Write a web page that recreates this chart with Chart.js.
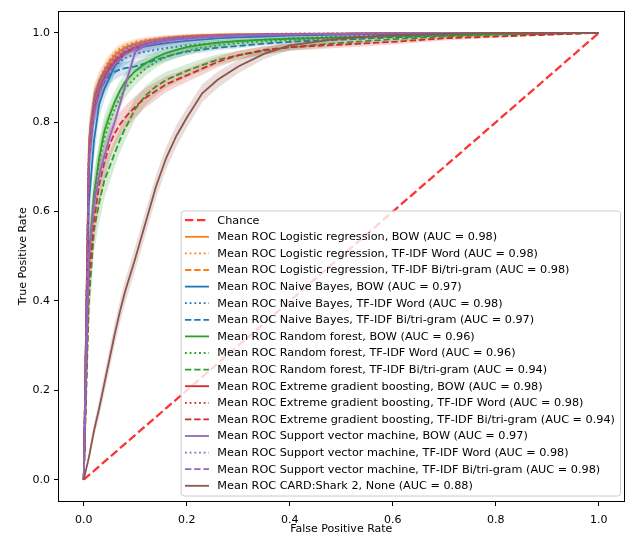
<!DOCTYPE html>
<html><head><meta charset="utf-8">
<script src="https://cdn.jsdelivr.net/npm/chart.js@4/dist/chart.umd.min.js"></script>
<style>html,body{margin:0;padding:0;background:#fff}#wrap{width:628px;height:535px}</style>
</head><body><div id="wrap"><canvas id="c" width="628" height="535"></canvas></div>
<script>
// ---- data ----
const FPR = [0, 0.01, 0.02, 0.03, 0.04, 0.05, 0.06, 0.07, 0.08, 0.10, 0.12, 0.14, 0.16, 0.18, 0.20, 0.23, 0.26, 0.30, 0.35, 0.40, 0.50, 0.60, 0.70, 0.80, 0.90, 1.00];
const CHANCE_X = [0, 1];
const CHANCE_Y = [0, 1];
const lr_bow    = [0, 0.76, 0.85, 0.89, 0.915, 0.935, 0.95, 0.96, 0.967, 0.976, 0.982, 0.986, 0.989, 0.991, 0.993, 0.995, 0.996, 0.997, 0.998, 0.998, 0.999, 1, 1, 1, 1, 1];
const lr_word   = [0, 0.75, 0.855, 0.895, 0.92, 0.94, 0.955, 0.965, 0.972, 0.98, 0.985, 0.988, 0.99, 0.992, 0.994, 0.995, 0.996, 0.997, 0.998, 0.999, 0.999, 1, 1, 1, 1, 1];
const lr_ngram  = [0, 0.74, 0.84, 0.88, 0.905, 0.925, 0.94, 0.95, 0.958, 0.968, 0.975, 0.98, 0.984, 0.987, 0.989, 0.991, 0.993, 0.995, 0.996, 0.997, 0.998, 0.999, 1, 1, 1, 1];
const nb_bow    = [0, 0.62, 0.76, 0.84, 0.875, 0.9, 0.925, 0.94, 0.955, 0.965, 0.97, 0.974, 0.977, 0.98, 0.982, 0.985, 0.988, 0.99, 0.992, 0.994, 0.996, 0.998, 0.999, 1, 1, 1];
const nb_word   = [0, 0.72, 0.83, 0.87, 0.895, 0.91, 0.925, 0.935, 0.943, 0.953, 0.958, 0.962, 0.966, 0.969, 0.972, 0.975, 0.978, 0.981, 0.985, 0.988, 0.992, 0.995, 0.997, 0.999, 1, 1];
const nb_ngram  = [0, 0.73, 0.83, 0.87, 0.89, 0.905, 0.913, 0.918, 0.921, 0.925, 0.932, 0.94, 0.947, 0.953, 0.958, 0.963, 0.967, 0.971, 0.976, 0.98, 0.985, 0.99, 0.994, 0.997, 0.999, 1];
const rf_bow    = [0, 0.5, 0.64, 0.72, 0.78, 0.815, 0.845, 0.87, 0.89, 0.915, 0.932, 0.945, 0.955, 0.962, 0.968, 0.974, 0.978, 0.982, 0.985, 0.987, 0.99, 0.993, 0.996, 0.998, 0.999, 1];
const rf_word   = [0, 0.48, 0.63, 0.71, 0.765, 0.8, 0.83, 0.855, 0.875, 0.9, 0.92, 0.935, 0.946, 0.954, 0.96, 0.967, 0.972, 0.977, 0.981, 0.984, 0.988, 0.992, 0.995, 0.997, 0.999, 1];
const rf_ngram  = [0, 0.4, 0.56, 0.62, 0.67, 0.7, 0.73, 0.76, 0.785, 0.83, 0.86, 0.88, 0.895, 0.905, 0.915, 0.928, 0.94, 0.95, 0.96, 0.968, 0.978, 0.986, 0.992, 0.996, 0.998, 1];
const xgb_bow   = [0, 0.72, 0.83, 0.87, 0.9, 0.92, 0.935, 0.945, 0.955, 0.967, 0.975, 0.98, 0.984, 0.987, 0.989, 0.991, 0.993, 0.995, 0.996, 0.997, 0.998, 0.999, 1, 1, 1, 1];
const xgb_word  = [0, 0.73, 0.835, 0.875, 0.905, 0.925, 0.94, 0.95, 0.958, 0.968, 0.976, 0.981, 0.985, 0.988, 0.99, 0.992, 0.994, 0.995, 0.996, 0.997, 0.998, 0.999, 1, 1, 1, 1];
const xgb_ngram = [0, 0.45, 0.58, 0.66, 0.71, 0.75, 0.775, 0.795, 0.81, 0.835, 0.855, 0.87, 0.885, 0.895, 0.905, 0.92, 0.935, 0.95, 0.962, 0.968, 0.974, 0.98, 0.988, 0.992, 0.996, 1];
const svm_bow   = [0, 0.5, 0.62, 0.68, 0.725, 0.765, 0.8, 0.84, 0.88, 0.958, 0.972, 0.978, 0.982, 0.985, 0.987, 0.99, 0.992, 0.994, 0.995, 0.996, 0.998, 0.999, 1, 1, 1, 1];
const svm_word  = [0, 0.74, 0.84, 0.88, 0.91, 0.93, 0.945, 0.955, 0.963, 0.973, 0.98, 0.984, 0.987, 0.99, 0.991, 0.993, 0.995, 0.996, 0.997, 0.998, 0.999, 1, 1, 1, 1, 1];
const svm_ngram = [0, 0.72, 0.82, 0.865, 0.895, 0.915, 0.93, 0.942, 0.952, 0.965, 0.974, 0.98, 0.984, 0.987, 0.989, 0.991, 0.993, 0.995, 0.996, 0.997, 0.998, 0.999, 1, 1, 1, 1];
const card      = [0, 0.05, 0.11, 0.16, 0.215, 0.27, 0.325, 0.375, 0.42, 0.495, 0.575, 0.655, 0.72, 0.77, 0.81, 0.865, 0.895, 0.925, 0.953, 0.972, 0.988, 0.995, 0.998, 1, 1, 1];

// standard deviation of TPR across folds (band half-widths)
const std_tight = [0, 0.05, 0.03, 0.02, 0.015, 0.012, 0.01, 0.009, 0.008, 0.007, 0.006, 0.005, 0.005, 0.004, 0.004, 0.004, 0.003, 0.003, 0.003, 0.002, 0.002, 0.001, 0.001, 0, 0, 0];
const std_nb    = [0, 0.06, 0.04, 0.03, 0.025, 0.02, 0.018, 0.016, 0.015, 0.013, 0.012, 0.011, 0.01, 0.009, 0.008, 0.007, 0.006, 0.005, 0.004, 0.004, 0.003, 0.002, 0.002, 0.001, 0.001, 0];
const std_rf    = [0, 0.06, 0.05, 0.04, 0.035, 0.03, 0.025, 0.022, 0.02, 0.017, 0.015, 0.013, 0.011, 0.01, 0.009, 0.008, 0.007, 0.006, 0.005, 0.004, 0.003, 0.002, 0.002, 0.001, 0.001, 0];
const std_wide  = [0, 0.06, 0.05, 0.045, 0.04, 0.035, 0.03, 0.028, 0.026, 0.024, 0.022, 0.02, 0.018, 0.016, 0.015, 0.014, 0.012, 0.01, 0.009, 0.008, 0.007, 0.006, 0.005, 0.003, 0.002, 0];
const std_card  = [0, 0.01, 0.015, 0.02, 0.022, 0.024, 0.025, 0.026, 0.026, 0.027, 0.027, 0.026, 0.025, 0.024, 0.022, 0.02, 0.018, 0.015, 0.012, 0.01, 0.007, 0.005, 0.003, 0.002, 0.001, 0];

const LABELS = [
  'Chance',
  'Mean ROC Logistic regression, BOW (AUC = 0.98)',
  'Mean ROC Logistic regression, TF-IDF Word (AUC = 0.98)',
  'Mean ROC Logistic regression, TF-IDF Bi/tri-gram (AUC = 0.98)',
  'Mean ROC Naive Bayes, BOW (AUC = 0.97)',
  'Mean ROC Naive Bayes, TF-IDF Word (AUC = 0.98)',
  'Mean ROC Naive Bayes, TF-IDF Bi/tri-gram (AUC = 0.97)',
  'Mean ROC Random forest, BOW (AUC = 0.96)',
  'Mean ROC Random forest, TF-IDF Word (AUC = 0.96)',
  'Mean ROC Random forest, TF-IDF Bi/tri-gram (AUC = 0.94)',
  'Mean ROC Extreme gradient boosting, BOW (AUC = 0.98)',
  'Mean ROC Extreme gradient boosting, TF-IDF Word (AUC = 0.98)',
  'Mean ROC Extreme gradient boosting, TF-IDF Bi/tri-gram (AUC = 0.94)',
  'Mean ROC Support vector machine, BOW (AUC = 0.97)',
  'Mean ROC Support vector machine, TF-IDF Word (AUC = 0.98)',
  'Mean ROC Support vector machine, TF-IDF Bi/tri-gram (AUC = 0.98)',
  'Mean ROC CARD:Shark 2, None (AUC = 0.88)'
];
const XTICKS = [0, 0.2, 0.4, 0.6, 0.8, 1.0];
const YTICKS = [0, 0.2, 0.4, 0.6, 0.8, 1.0];

// ---- styles ----
const C = {orange:'#ff7f0e', blue:'#1f77b4', green:'#2ca02c', red:'#d62728', purple:'#9467bd', brown:'#8c564b'};
const DASH = {solid:[], dotted:[1.8, 2.9], dashed:[6.4, 2.8]};
const LW = 1.8;
const FONT = "'DejaVu Sans', sans-serif";

const SERIES = [
  [lr_bow, std_tight, C.orange, 'solid'],
  [lr_word, std_tight, C.orange, 'dotted'],
  [lr_ngram, std_tight, C.orange, 'dashed'],
  [nb_bow, std_nb, C.blue, 'solid'],
  [nb_word, std_nb, C.blue, 'dotted'],
  [nb_ngram, std_nb, C.blue, 'dashed'],
  [rf_bow, std_rf, C.green, 'solid'],
  [rf_word, std_rf, C.green, 'dotted'],
  [rf_ngram, std_wide, C.green, 'dashed'],
  [xgb_bow, std_tight, C.red, 'solid'],
  [xgb_word, std_tight, C.red, 'dotted'],
  [xgb_ngram, std_wide, C.red, 'dashed'],
  [svm_bow, std_nb, C.purple, 'solid'],
  [svm_word, std_tight, C.purple, 'dotted'],
  [svm_ngram, std_tight, C.purple, 'dashed'],
  [card, std_card, C.brown, 'solid']
];

function rgba(hex, a){const n=parseInt(hex.slice(1),16);return `rgba(${n>>16},${(n>>8)&255},${n&255},${a})`;}

const datasets = [];
const legendItems = [];
const CHANCE_DASH = [8.4, 3.6];
datasets.push({label: LABELS[0], data: CHANCE_X.map((x,i)=>({x, y:CHANCE_Y[i]})),
  borderColor:'rgba(255,0,0,0.8)', borderWidth:2.3, borderDash:CHANCE_DASH, pointRadius:0, fill:false, tension:0});
legendItems.push({label: LABELS[0], color:'rgba(255,0,0,0.8)', width:2.3, dash:CHANCE_DASH});
SERIES.forEach((s, k) => {
  const [tpr, sd, col, sty] = s;
  const lowIdx = datasets.length;
  datasets.push({label:'_lo', data: FPR.map((x,i)=>({x, y: Math.max(0, tpr[i]-sd[i])})),
    borderWidth:0, pointRadius:0, fill:false, tension:0, borderColor:'rgba(0,0,0,0)'});
  datasets.push({label:'_hi', data: FPR.map((x,i)=>({x, y: Math.min(1, tpr[i]+sd[i])})),
    borderWidth:0, pointRadius:0, fill:{target: lowIdx}, backgroundColor: rgba(col, 0.2), tension:0, borderColor:'rgba(0,0,0,0)'});
  datasets.push({label: LABELS[k+1], data: FPR.map((x,i)=>({x, y: tpr[i]})),
    borderColor: col, borderWidth: LW, borderDash: DASH[sty], pointRadius:0, fill:false, tension:0});
  legendItems.push({label: LABELS[k+1], color: col, width: LW, dash: DASH[sty]});
});
const N = datasets.length;
datasets.forEach((d,i)=>{ d.order = N - i; });

const frameAndLegend = {
  id: 'frameAndLegend',
  afterDraw(chart) {
    const ctx = chart.ctx, a = chart.chartArea;
    ctx.save();
    ctx.strokeStyle = '#000'; ctx.lineWidth = 1;
    ctx.strokeRect(Math.round(a.left)+0.5, Math.round(a.top)+0.5, Math.round(a.right-a.left)-1, Math.round(a.bottom-a.top)-1);
    // legend
    ctx.font = '11.25px ' + FONT;
    let maxW = 0;
    legendItems.forEach(it => { maxW = Math.max(maxW, ctx.measureText(it.label).width); });
    const rowH = 16.6, handleL = 24, padL = 4.3, gap = 8.4, padR = 5;
    const w = padL + handleL + gap + maxW + padR;
    const h = rowH * legendItems.length + 2.8;
    const x0 = a.right - 4.5 - w, y0 = a.bottom - 6.5 - h;
    ctx.beginPath();
    if (ctx.roundRect) ctx.roundRect(x0+0.5, y0+0.5, w, h, 3); else ctx.rect(x0+0.5, y0+0.5, w, h);
    ctx.fillStyle = 'rgba(255,255,255,0.8)'; ctx.fill();
    ctx.strokeStyle = '#cccccc'; ctx.lineWidth = 1; ctx.stroke();
    legendItems.forEach((it, i) => {
      const y = y0 + 9.7 + i * rowH;
      ctx.save();
      ctx.strokeStyle = it.color; ctx.lineWidth = it.width; ctx.setLineDash(it.dash); ctx.lineCap = 'butt';
      ctx.beginPath(); ctx.moveTo(x0 + padL, y); ctx.lineTo(x0 + padL + handleL, y); ctx.stroke();
      ctx.restore();
      ctx.fillStyle = '#000'; ctx.textBaseline = 'middle'; ctx.textAlign = 'left';
      ctx.fillText(it.label, x0 + padL + handleL + gap, y + 0.5);
    });
    ctx.restore();
  }
};

const tickFont = {family: FONT, size: 11};
function axis(ticks, title, isY) {
  return {
    type: 'linear', min: -0.05, max: 1.05,
    afterBuildTicks: s => { s.ticks = ticks.map(v => ({value: v})); },
    afterFit: s => { if (isY) s.width = 58; else s.height = 33; },
    ticks: {callback: v => Number(v).toFixed(1), font: tickFont, color: '#000', padding: isY ? 4 : 8, maxRotation: 0, autoSkip: false},
    grid: {display: true, drawOnChartArea: false, drawTicks: true, tickLength: 4, color: '#000', tickWidth: 1},
    border: {display: false},
    title: {display: true, text: title, font: tickFont, color: '#000', padding: isY ? {top: 17, bottom: 0} : {top: 0, bottom: -1}}
  };
}

new Chart(document.getElementById('c'), {
  type: 'line',
  data: {datasets},
  options: {
    responsive: false, devicePixelRatio: 1, animation: false,
    layout: {padding: {top: 10, right: 3.5, left: 0, bottom: 0}},
    plugins: {legend: {display: false}, tooltip: {enabled: false}, filler: {propagate: false}},
    scales: {x: axis(XTICKS, 'False Positive Rate', false), y: axis(YTICKS, 'True Positive Rate', true)}
  },
  plugins: [frameAndLegend]
});
</script></body></html>
